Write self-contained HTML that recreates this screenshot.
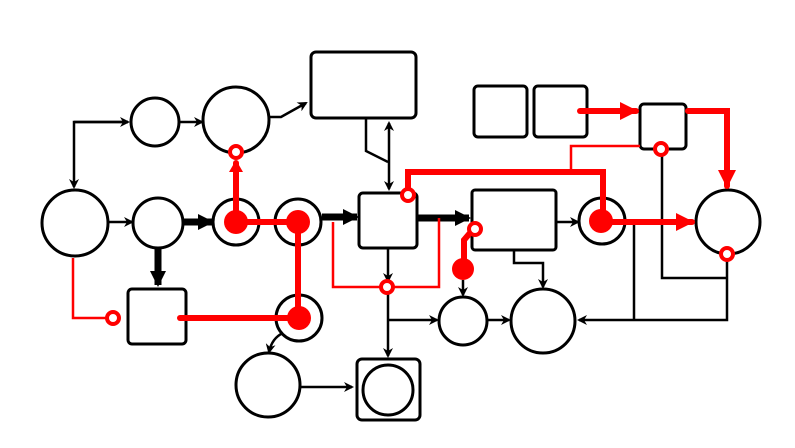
<!DOCTYPE html>
<html><head><meta charset="utf-8"><style>html,body{margin:0;padding:0;background:#fff}svg{display:block}</style></head>
<body>
<svg width="795" height="448" viewBox="0 0 795 448" xmlns="http://www.w3.org/2000/svg">
<defs>
<marker id="a" markerWidth="10" markerHeight="10" refX="8" refY="5" orient="auto" markerUnits="userSpaceOnUse"><path d="M0,0 L10,5 L0,10 L3,5 z" fill="#000"/></marker>
<marker id="as" markerWidth="10" markerHeight="10" refX="8" refY="5" orient="auto-start-reverse" markerUnits="userSpaceOnUse"><path d="M0,0 L10,5 L0,10 L3,5 z" fill="#000"/></marker>
<marker id="ab" markerWidth="16" markerHeight="16" refX="14" refY="8" orient="auto" markerUnits="userSpaceOnUse"><path d="M0,0 L16,8 L0,16 z" fill="#000"/></marker>
<marker id="ar" markerWidth="18" markerHeight="18" refX="16" refY="9" orient="auto" markerUnits="userSpaceOnUse"><path d="M0,0 L18,9 L0,18 z" fill="#f00"/></marker>
</defs>
<g fill="none" stroke="#000" stroke-width="3">
<circle cx="75" cy="223" r="33"/>
<circle cx="155" cy="122" r="24"/>
<circle cx="236" cy="120" r="33"/>
<rect x="311" y="52" width="105" height="66" rx="5"/>
<circle cx="158" cy="223" r="25"/>
<circle cx="236" cy="222" r="23"/>
<circle cx="298" cy="222" r="23"/>
<rect x="359" y="193" width="58" height="55" rx="4"/>
<rect x="472" y="190" width="84" height="60" rx="3"/>
<circle cx="602" cy="221" r="23"/>
<circle cx="728" cy="222" r="32"/>
<rect x="474" y="86" width="53" height="51" rx="4"/>
<rect x="534" y="86" width="53" height="51" rx="4"/>
<rect x="640" y="104" width="46" height="45" rx="4"/>
<rect x="128" y="289" width="58" height="55" rx="4"/>
<circle cx="299" cy="318" r="23"/>
<circle cx="268" cy="385" r="32"/>
<rect x="357" y="359" width="63" height="61" rx="5"/>
<circle cx="388" cy="390" r="25"/>
<circle cx="463" cy="321" r="24"/>
<circle cx="543" cy="321" r="32"/>
</g>
<g fill="none" stroke="#000" stroke-width="2.5">
<path d="M128,122 H74 V187" marker-end="url(#a)"/>
<path d="M74,122 H128" marker-end="url(#a)"/>
<path d="M180,122 H202" marker-end="url(#a)"/>
<path d="M270,117 H281 L306,103" marker-end="url(#a)"/>
<path d="M366,119 V151 L388,162"/>
<path d="M389,123 V189" marker-start="url(#as)" marker-end="url(#a)"/>
<path d="M109,222 H132" marker-end="url(#a)"/>
<path d="M556,222 H578" marker-end="url(#a)"/>
<path d="M388,248 V281" marker-end="url(#a)"/>
<path d="M388,293 V356" marker-end="url(#a)"/>
<path d="M388,320 H437" marker-end="url(#a)"/>
<path d="M487,320 H509" marker-end="url(#a)"/>
<path d="M514,250 V263 H543 V287" marker-end="url(#a)"/>
<path d="M463,280 V295" marker-end="url(#a)"/>
<path d="M662,155 V278 H727"/>
<path d="M727,260 V320 H579" marker-end="url(#a)"/>
<path d="M634,225 V320"/>
<path d="M283,333 Q272,338 269,352" marker-end="url(#a)"/>
<path d="M301,387 H352" marker-end="url(#a)"/>
</g>
<g fill="none" stroke="#000" stroke-width="7">
<path d="M183,222 H212" marker-end="url(#ab)"/>
<path d="M322,217 H357" marker-end="url(#ab)"/>
<path d="M417,218 H469" marker-end="url(#ab)"/>
<path d="M158,248 V285" marker-end="url(#ab)"/>
</g>
<g fill="none" stroke="#f00" stroke-width="2.5">
<path d="M73,258 V318 H107"/>
<path d="M333,222 V287 H439 V218"/>
<path d="M571,172 V146 H640"/>
</g>
<g fill="none" stroke="#f00" stroke-width="6" stroke-linecap="round">
<path d="M180,318 H299"/>
<path d="M298,222 V318"/>
<path d="M236,222 H298"/>
<path d="M236,222 V163"/>
<path d="M408,190 V172 H603 V221"/>
<path d="M603,222 H692" marker-end="url(#ar)"/>
<path d="M580,111 H636" marker-end="url(#ar)"/>
<path d="M688,111 H727 V186" marker-end="url(#ar)"/>
<path d="M470,233 L464,240 V268"/>
</g>
<path d="M229,172 L236,160 L243,172 z" fill="#f00"/>
<g fill="#f00">
<circle cx="236" cy="222" r="12"/>
<circle cx="298" cy="222" r="12"/>
<circle cx="299" cy="318" r="12"/>
<circle cx="601" cy="221" r="12"/>
<circle cx="463" cy="269" r="11"/>
</g>
<g fill="#fff" stroke="#f00" stroke-width="4">
<circle cx="236" cy="152" r="6"/>
<circle cx="113" cy="318" r="6"/>
<circle cx="408" cy="195" r="6"/>
<circle cx="387" cy="287" r="6"/>
<circle cx="475" cy="229" r="6"/>
<circle cx="661" cy="149" r="6"/>
<circle cx="727" cy="254" r="6"/>
</g>
</svg>
</body></html>
